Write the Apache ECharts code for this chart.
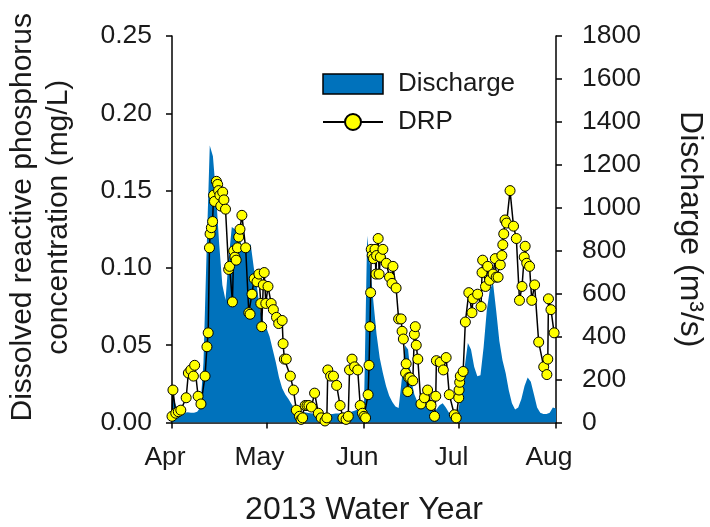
<!DOCTYPE html>
<html>
<head>
<meta charset="utf-8">
<script src="https://cdn.jsdelivr.net/npm/echarts@6/dist/echarts.min.js"></script>
<style>
html,body{margin:0;padding:0;background:#fff;}
#chart{width:710px;height:527px;}
</style>
</head>
<body>
<div id="chart"></div>
<script>
// ---- Data (days since 1 April 2013) ----
const monthDays = [0, 30, 61, 91, 122];
const monthLabels = ['Apr', 'May', 'Jun', 'Jul', 'Aug'];
const leftTicks = [0, 0.05, 0.10, 0.15, 0.20, 0.25];
const rightTicks = [0, 200, 400, 600, 800, 1000, 1200, 1400, 1600, 1800];

// daily discharge (m3/s), day 0 .. 122
const dischargeValues = [
  150, 90, 50, 45, 45, 48, 45, 45, 50, 70,
  280, 800, 1290, 1240, 1060, 830, 640, 570, 760, 910,
  900, 890, 830, 800, 820, 830, 720, 630, 520, 470,
  440, 400, 340, 280, 210, 160, 130, 110, 85, 65,
  55, 50, 48, 45, 43, 42, 42, 40, 40, 40,
  40, 40, 42, 42, 45, 45, 48, 50, 55, 60,
  55, 70, 870, 720, 560, 410, 300, 230, 170, 125,
  95, 75, 68, 200, 360, 340, 200, 130, 95, 90,
  120, 90, 60, 55, 60, 80, 90, 70, 45, 45,
  50, 60, 150, 260, 370, 340, 260, 215, 220, 350,
  520, 620, 650, 520, 380, 290, 230, 150, 90, 60,
  70, 110, 170, 210, 190, 130, 70, 45, 40, 40,
  45, 70, 65
];

// DRP samples: day position and concentration (mg/L)
const drpDays = [
  0.0, 0.3, 1.2, 2.0, 2.8, 4.5, 5.2, 6.0, 6.8, 7.2,
  8.3, 9.2, 10.5, 11.1, 11.5, 11.9, 12.1, 12.5, 12.9, 13.2,
  13.5, 14.1, 14.5, 14.8, 15.2, 15.5, 16.1, 16.5, 17.0, 18.0,
  18.3, 19.2, 19.6, 20.0, 20.4, 20.8, 21.2, 21.6, 22.2, 23.4,
  24.4, 24.8, 25.4, 26.1, 27.0, 27.6, 28.2, 28.5, 29.0, 29.3,
  29.8, 30.5, 31.5, 32.2, 33.2, 33.9, 35.0, 35.3, 35.7, 36.3,
  37.6, 38.6, 39.5, 40.5, 41.0, 41.5, 42.3, 42.9, 43.5, 44.3,
  45.3, 46.5, 47.4, 48.6, 49.2, 49.5, 50.4, 51.3, 52.3, 53.4,
  54.3, 55.3, 56.0, 56.4, 57.2, 58.0, 59.0, 59.8, 60.5, 61.0,
  61.5, 62.3, 62.6, 62.9, 63.1, 63.3, 63.6, 64.0, 64.5, 64.8,
  65.0, 65.5, 65.8, 66.2, 67.0, 68.1, 69.1, 69.9, 70.2, 71.2,
  72.0, 72.8, 73.1, 73.5, 74.2, 74.4, 74.9, 75.2, 75.6, 76.5,
  77.0, 77.3, 77.6, 78.1, 79.1, 80.2, 81.2, 82.3, 83.4, 83.8,
  84.0, 85.2, 86.2, 87.1, 88.1, 89.7, 90.3, 91.1, 91.2, 91.4,
  91.6, 92.5, 93.2, 94.3, 95.3, 95.6, 97.1, 98.2, 98.5, 98.7,
  99.6, 100.3, 100.9, 102.0, 102.7, 103.0, 103.6, 104.3, 104.8, 105.1,
  105.4, 105.8, 106.3, 107.4, 108.5, 109.4, 110.4, 111.2, 111.9, 112.2,
  112.7, 113.6, 114.3, 115.2, 116.5, 118.1, 119.1, 119.4, 119.6, 120.4,
  121.4
];
const drpValues = [
  0.004, 0.021, 0.006, 0.007, 0.008, 0.016, 0.032, 0.034, 0.030, 0.037,
  0.017, 0.012, 0.030, 0.049, 0.058, 0.113, 0.122, 0.126, 0.130, 0.147,
  0.143, 0.156, 0.154, 0.150, 0.147, 0.140, 0.149, 0.144, 0.138, 0.099,
  0.101, 0.078, 0.111, 0.107, 0.105, 0.113, 0.120, 0.125, 0.134, 0.113,
  0.071, 0.070, 0.083, 0.093, 0.091, 0.096, 0.077, 0.062, 0.089, 0.097,
  0.077, 0.088, 0.077, 0.073, 0.068, 0.064, 0.066, 0.051, 0.041, 0.041,
  0.030, 0.021, 0.008, 0.004, 0.002, 0.003, 0.011, 0.011, 0.011, 0.010,
  0.019, 0.006, 0.003, 0.001, 0.003, 0.034, 0.030, 0.030, 0.024, 0.011,
  0.003, 0.002, 0.004, 0.034, 0.041, 0.036, 0.034, 0.011, 0.006, 0.004,
  0.003, 0.018, 0.037, 0.062, 0.084, 0.112, 0.108, 0.106, 0.112, 0.096,
  0.108, 0.119, 0.096, 0.107, 0.112, 0.103, 0.094, 0.090, 0.101, 0.087,
  0.067, 0.067, 0.059, 0.054, 0.032, 0.038, 0.020, 0.029, 0.029, 0.027,
  0.057, 0.062, 0.050, 0.041, 0.012, 0.016, 0.021, 0.011, 0.004, 0.017,
  0.040, 0.039, 0.034, 0.042, 0.018, 0.005, 0.003, 0.016, 0.021, 0.026,
  0.030, 0.033, 0.065, 0.084, 0.071, 0.080, 0.083, 0.075, 0.097, 0.105,
  0.088, 0.101, 0.092, 0.096, 0.106, 0.094, 0.094, 0.102, 0.108, 0.115,
  0.122, 0.131, 0.129, 0.150, 0.127, 0.119, 0.079, 0.088, 0.107, 0.114,
  0.103, 0.101, 0.079, 0.089, 0.052, 0.036, 0.031, 0.041, 0.080, 0.073,
  0.058
];

const FONT = "'Liberation Sans', Arial, Helvetica, sans-serif";
const TXT = '#1a1a1a';

const dischargeData = dischargeValues.map((v, i) => [i, v]);
const drpData = drpDays.map((d, i) => [d, drpValues[i]]);

const chart = echarts.init(document.getElementById('chart'), null, {renderer: 'canvas'});

const axisLineStyle = {color: '#000', width: 1.5};

chart.setOption({
  animation: false,
  backgroundColor: '#fff',
  textStyle: {fontFamily: FONT, color: TXT},
  grid: {left: 172, right: 154, top: 36, bottom: 104.5, containLabel: false, outerBoundsMode: 'none'},
  legend: {
    orient: 'vertical',
    left: 322,
    top: 71,
    padding: 0,
    itemWidth: 60,
    itemHeight: 20,
    itemGap: 12,
    textStyle: {fontFamily: FONT, fontSize: 26, color: TXT, padding: [0, 0, 0, 10]},
    data: [
      {name: 'Discharge', icon: 'rect', itemStyle: {color: '#0072bc', borderColor: '#000', borderWidth: 1.5}},
      {name: 'DRP'}
    ]
  },
  xAxis: {
    type: 'value',
    min: 0,
    max: 122,
    name: '2013 Water Year',
    nameLocation: 'middle',
    nameGap: 72,
    nameTextStyle: {fontFamily: FONT, fontSize: 32, color: TXT},
    axisLine: {show: true, lineStyle: axisLineStyle},
    axisTick: {show: true, inside: false, length: 6, lineStyle: axisLineStyle, customValues: monthDays},
    axisLabel: {
      customValues: monthDays,
      fontFamily: FONT, fontSize: 26.5, color: TXT, margin: 22,
      padding: [0, 14, 0, 0],
      formatter: v => monthLabels[monthDays.indexOf(v)] || ''
    },
    splitLine: {show: false}
  },
  yAxis: [
    {
      type: 'value',
      position: 'left',
      min: leftTicks[0],
      max: leftTicks[leftTicks.length - 1],
      interval: 0.05,
      name: 'Dissolved reactive phosphorus\nconcentration (mg/L)',
      nameLocation: 'middle',
      nameGap: 95,
      nameRotate: 90,
      nameTextStyle: {fontFamily: FONT, fontSize: 30, color: TXT, lineHeight: 36, padding: [0, 0, 0, 24]},
      axisLine: {show: true, lineStyle: axisLineStyle},
      axisTick: {show: true, inside: false, length: 6, lineStyle: axisLineStyle},
      axisLabel: {fontFamily: FONT, fontSize: 26.5, color: TXT, margin: 20, formatter: v => v.toFixed(2)},
      splitLine: {show: false}
    },
    {
      type: 'value',
      position: 'right',
      min: rightTicks[0],
      max: rightTicks[rightTicks.length - 1],
      interval: 200,
      name: 'Discharge (m\u00B3/s)',
      nameLocation: 'middle',
      nameGap: 118,
      nameRotate: -90,
      nameTextStyle: {fontFamily: FONT, fontSize: 32, color: TXT},
      axisLine: {show: true, lineStyle: axisLineStyle},
      axisTick: {show: true, inside: false, length: 6, lineStyle: axisLineStyle},
      axisLabel: {fontFamily: FONT, fontSize: 26.5, color: TXT, margin: 26, formatter: v => String(v)},
      splitLine: {show: false}
    }
  ],
  series: [
    {
      name: 'Discharge',
      type: 'line',
      yAxisIndex: 1,
      data: dischargeData,
      showSymbol: false,
      symbol: 'none',
      lineStyle: {width: 0, color: '#0072bc'},
      itemStyle: {color: '#0072bc'},
      areaStyle: {color: '#0072bc', opacity: 1},
      z: 1
    },
    {
      name: 'DRP',
      type: 'line',
      yAxisIndex: 0,
      data: drpData,
      symbol: 'circle',
      symbolSize: 10,
      showAllSymbol: true,
      itemStyle: {color: '#ffff00', borderColor: '#000', borderWidth: 1},
      lineStyle: {color: '#000', width: 1.5},
      z: 5
    }
  ]
});
</script>
</body>
</html>
